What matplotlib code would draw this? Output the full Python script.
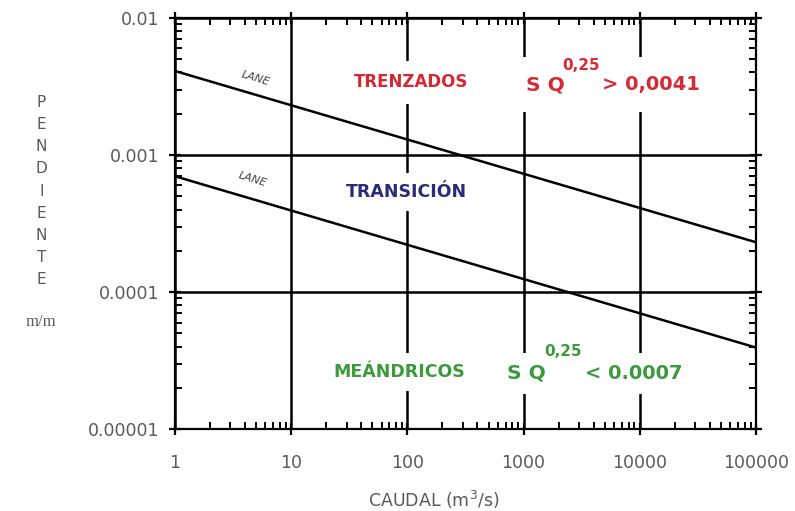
import matplotlib as mpl
import numpy as np

mpl.use('agg')

import matplotlib.pyplot as plt
from matplotlib.ticker import FixedLocator, LogLocator, NullFormatter

# caudal (m3/s) at the ends of the two Lane lines, and the slopes read there
caudal = [1, 100000]
pendiente_trenzados = [0.0041, 0.000231]
pendiente_meandricos = [0.0007, 0.0000394]

x_ticks = [1, 10, 100, 1000, 10000, 100000]
x_labels = ['1', '10', '100', '1000', '10000', '100000']
y_ticks = [0.00001, 0.0001, 0.001, 0.01]
y_labels = ['0.00001', '0.0001', '0.001', '0.01']

gray = '#5a5a5a'
red = '#d42a35'
green = '#3c9a3c'
navy = '#2b2b78'
plt.rcParams['font.family'] = ['DejaVu Sans']

fig = plt.figure(figsize=(7.95, 5.11), dpi=100)
ax = fig.add_axes([0.220, 0.160, 0.731, 0.805])

ax.plot(caudal, pendiente_trenzados, color='black', lw=1.8, zorder=2)
ax.plot(caudal, pendiente_meandricos, color='black', lw=1.8, zorder=2)

ax.set_xscale('log')
ax.set_yscale('log')
ax.set_xlim(1, 100000)
ax.set_ylim(0.00001, 0.01)

ax.xaxis.set_major_locator(FixedLocator(x_ticks))
ax.set_xticklabels(x_labels)
ax.yaxis.set_major_locator(FixedLocator(y_ticks))
ax.set_yticklabels(y_labels)
ax.xaxis.set_minor_locator(LogLocator(base=10, subs=np.arange(2, 10)))
ax.yaxis.set_minor_locator(LogLocator(base=10, subs=np.arange(2, 10)))
ax.xaxis.set_minor_formatter(NullFormatter())
ax.yaxis.set_minor_formatter(NullFormatter())

ax.tick_params(which='major', direction='inout', length=9, width=1.6,
               top=True, right=True, labelsize=12.5, labelcolor=gray)
ax.tick_params(which='minor', direction='in', length=5, width=1.4,
               top=True, right=True)
ax.tick_params(axis='x', which='major', pad=13)
ax.tick_params(axis='y', which='major', pad=7)

ax.grid(which='major', color='black', lw=1.8)
ax.set_axisbelow(False)
for s in ax.spines.values():
    s.set_linewidth(1.6)

# zones
ax.text(0.406, 0.844, 'TRENZADOS', transform=ax.transAxes, ha='center', va='center',
        color=red, fontsize=12, fontweight='bold',
        bbox=dict(facecolor='white', edgecolor='none', pad=9))
ax.text(0.399, 0.577, 'TRANSICIÓN', transform=ax.transAxes, ha='center', va='center',
        color=navy, fontsize=12.5, fontweight='bold',
        bbox=dict(facecolor='white', edgecolor='none', pad=7))
ax.text(0.386, 0.139, 'MEÁNDRICOS', transform=ax.transAxes, ha='center', va='center',
        color=green, fontsize=12.5, fontweight='bold',
        bbox=dict(facecolor='white', edgecolor='none', pad=7))

# criteria
ax.text(0.604, 0.838, 'S Q', transform=ax.transAxes, ha='left', va='center',
        color=red, fontsize=14.5, fontweight='bold',
        bbox=dict(facecolor='white', edgecolor='none', pad=13))
ax.text(0.735, 0.838, '> 0,0041', transform=ax.transAxes, ha='left', va='center',
        color=red, fontsize=14, fontweight='bold',
        bbox=dict(facecolor='white', edgecolor='none', pad=13))
ax.text(0.667, 0.885, '0,25', transform=ax.transAxes, ha='left', va='center',
        color=red, fontsize=11, fontweight='bold', zorder=5)

ax.text(0.571, 0.136, 'S Q', transform=ax.transAxes, ha='left', va='center',
        color=green, fontsize=14.5, fontweight='bold',
        bbox=dict(facecolor='white', edgecolor='none', pad=8))
ax.text(0.706, 0.136, '< 0.0007', transform=ax.transAxes, ha='left', va='center',
        color=green, fontsize=14, fontweight='bold',
        bbox=dict(facecolor='white', edgecolor='none', pad=8))
ax.text(0.635, 0.188, '0,25', transform=ax.transAxes, ha='left', va='center',
        color=green, fontsize=11, fontweight='bold', zorder=5)

# Lane labels along the lines
ax.text(0.138, 0.852, 'LANE', transform=ax.transAxes, ha='center', va='center',
        color='#444444', fontsize=8, style='italic', rotation=-17)
ax.text(0.134, 0.608, 'LANE', transform=ax.transAxes, ha='center', va='center',
        color='#444444', fontsize=8, style='italic', rotation=-17)

# axis titles
fig.text(0.052, 0.626, '\n'.join('PENDIENTE'), ha='center', va='center',
         color=gray, fontsize=11, linespacing=1.6)
fig.text(0.052, 0.370, 'm/m', ha='center', va='center', color=gray,
         fontsize=12, family='Liberation Serif')
fig.text(0.546, 0.022, 'CAUDAL (m$^3$/s)', ha='center', va='center',
         color=gray, fontsize=12.5)

fig.savefig('out.png', dpi=100)
